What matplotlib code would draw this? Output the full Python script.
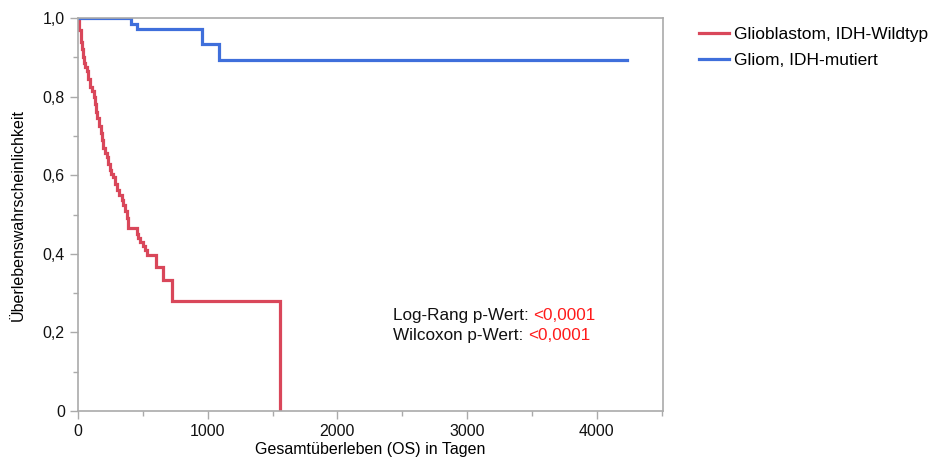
import matplotlib
matplotlib.use("Agg")
import matplotlib.pyplot as plt
from matplotlib.ticker import MultipleLocator, FuncFormatter

plt.rcParams['font.family'] = ['Liberation Sans', 'DejaVu Sans']

# Kaplan-Meier Stufen (Tage, Überlebenswahrscheinlichkeit)
gbm_tage = [0, 10, 20, 28, 38, 48, 56, 67, 80, 92, 105, 123, 130, 139, 150, 162, 175, 185,
            193, 205, 221, 235, 247, 258, 270, 285, 298, 315, 337, 350, 362, 375, 388, 457,
            465, 478, 500, 515, 529, 601, 653, 722, 1557]
gbm_surv = [1.0, 0.97, 0.94, 0.92, 0.90, 0.885, 0.876, 0.865, 0.845, 0.825, 0.815, 0.80, 0.78,
            0.76, 0.745, 0.725, 0.707, 0.69, 0.67, 0.657, 0.646, 0.628, 0.613, 0.603, 0.595,
            0.578, 0.562, 0.55, 0.537, 0.525, 0.51, 0.49, 0.466, 0.45, 0.44, 0.431, 0.42,
            0.41, 0.398, 0.367, 0.333, 0.281, 0.0]
idh_tage = [0, 410, 455, 960, 1090, 4230]
idh_surv = [1.0, 0.985, 0.971, 0.934, 0.892, 0.892]

labels = ['Glioblastom, IDH-Wildtyp', 'Gliom, IDH-mutiert']
farben = ['#d9475a', '#3f6fdb']

fig = plt.figure(figsize=(9.43, 4.7), dpi=100)
ax = fig.add_axes([0.0827, 0.1255, 0.6203, 0.8362])

ax.plot(gbm_tage, gbm_surv, drawstyle='steps-post', color=farben[0], lw=2.3,
        label=labels[0], solid_joinstyle='miter')
ax.plot(idh_tage, idh_surv, drawstyle='steps-post', color=farben[1], lw=2.3,
        label=labels[1], solid_joinstyle='miter')

ax.set_xlim(0, 4510)
ax.set_ylim(0, 1.0)
ax.xaxis.set_major_locator(MultipleLocator(1000))
ax.xaxis.set_minor_locator(MultipleLocator(500))
ax.yaxis.set_major_locator(MultipleLocator(0.2))
ax.yaxis.set_minor_locator(MultipleLocator(0.1))
ax.yaxis.set_major_formatter(FuncFormatter(
    lambda v, p: '0' if abs(v) < 1e-9 else f'{v:.1f}'.replace('.', ',')))

for s in ax.spines.values():
    s.set_color('#aaaaaa')
    s.set_linewidth(1.2)
ax.tick_params(which='major', length=6, width=1, color='#aaaaaa', labelsize=11.5,
               labelcolor='#111111')
ax.tick_params(which='minor', length=3.5, width=1, color='#aaaaaa')

ax.set_xlabel('Gesamtüberleben (OS) in Tagen', fontsize=11.5, labelpad=2)
ax.set_ylabel('Überlebenswahrscheinlichkeit', fontsize=11.5, labelpad=12)

ax.legend(loc='upper left', bbox_to_anchor=(1.062, 0.978), frameon=False, fontsize=12.5,
          handlelength=1.7, handletextpad=0.3, labelspacing=0.62,
          borderpad=0, borderaxespad=0)

# p-Werte, Zahl in Rot
zeilen = [('Log-Rang p-Wert: ', 0.242), ('Wilcoxon p-Wert: ', 0.191)]
fig.canvas.draw()
r = fig.canvas.get_renderer()
for txt, yv in zeilen:
    t = ax.text(2428, yv, txt, fontsize=12.3, va='center', ha='left', color='#111111')
    bb = t.get_window_extent(renderer=r)
    xd = ax.transData.inverted().transform((bb.x1, bb.y0))[0]
    ax.text(xd, yv, '<0,0001', fontsize=12.3, va='center', ha='left', color='#ff1a1a')

fig.savefig('out.png', dpi=100)
